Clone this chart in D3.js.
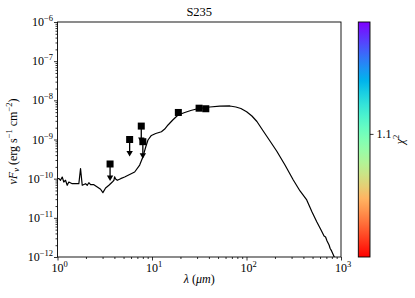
<!DOCTYPE html>
<html>
<head>
<meta charset="utf-8">
<script src="https://cdn.jsdelivr.net/npm/d3@7"></script>
<style>
    body { margin: 0; background: #fff; }
    svg text { font-family: "Liberation Serif", "DejaVu Serif", serif !important; fill: #000; }
</style>
</head>
<body>
<div id="chart"></div>
<script>
// model SED (wavelength in micron, nuFnu in erg s^-1 cm^-2)
const modelLambda = [1.007, 1.037, 1.076, 1.122, 1.166, 1.216, 1.267, 1.318, 1.432, 1.552,
    1.682, 1.753, 1.827, 1.981, 2.065, 2.147, 2.239, 2.427, 2.636, 2.857,
    3.022, 3.228, 3.499, 3.802, 3.953, 4.021, 4.121, 4.297, 4.657, 5.134,
    5.801, 6.554, 7.405, 8.025, 8.577, 9.07, 9.85, 10.95, 12.58, 13.63,
    14.78, 16.58, 18.87, 22.22, 25.72, 29.56, 34.48, 40.9, 52.2, 66.7,
    77.2, 87.2, 100.3, 114.1, 128.9, 150.3, 177.1, 208.5, 255.4, 312.8,
    368.4, 433.8, 493.8, 553.6, 615, 661.9, 686.6, 712.1, 747.8, 766.3,
    795, 830.7, 865.9];
const modelFlux = [1.01e-10, 1.0e-10, 9.1e-11, 1.10e-10, 8.2e-11, 9.1e-11, 6.78e-11, 8.2e-11, 7.44e-11, 7.53e-11,
    7.44e-11, 1.80e-10, 6.78e-11, 7.44e-11, 6.78e-11, 7.89e-11, 7.02e-11, 7.02e-11, 6.13e-11, 5.36e-11,
    4.39e-11, 5.78e-11, 6.78e-11, 8.2e-11, 9.1e-11, 1.12e-10, 9.82e-11, 9.1e-11, 1.0e-10, 1.10e-10,
    1.28e-10, 1.48e-10, 2.23e-10, 3.64e-10, 6.44e-10, 9.7e-10, 1.27e-9, 1.42e-9, 1.58e-9, 1.85e-9,
    2.35e-9, 3.15e-9, 4.23e-9, 4.89e-9, 5.5e-9, 6.01e-9, 6.37e-9, 6.76e-9, 7.08e-9, 7.18e-9,
    6.76e-9, 6.19e-9, 5.13e-9, 3.98e-9, 2.88e-9, 1.65e-9, 9.16e-10, 5.09e-10, 2.23e-10, 9.25e-11,
    4.85e-11, 2.86e-11, 1.41e-11, 7.98e-12, 4.9e-12, 3.44e-12, 3.24e-12, 2.56e-12, 2.03e-12, 1.67e-12,
    1.43e-12, 1.13e-12, 8.9e-13];

// observed photometry
const obsLambda = [3.6, 5.8, 7.7, 8.0, 19.0, 31.5, 37.1];
const obsFlux = [2.37e-10, 1.0e-9, 2.2e-9, 8.8e-10, 4.9e-9, 6.3e-9, 6.1e-9];
const obsUpperLimit = [true, true, true, true, false, false, false];

// axes
const xTickExps = [0, 1, 2, 3];
const yTickExps = [-12, -11, -10, -9, -8, -7, -6];
const chiDomain = [0.99, 1.2];
const chiTicks = [1.1];
const title = "S235";

const W = 415, H = 298;
const pLeft = 57.5, pRight = 341, pTop = 22, pBottom = 257;
const serif = "Liberation Serif, DejaVu Serif, serif";

const svg = d3.select("#chart").append("svg")
    .attr("width", W)
    .attr("height", H)
    .attr("font-family", serif);

const x = d3.scaleLog().domain([1, 1000]).range([pLeft, pRight]);
const y = d3.scaleLog().domain([1e-12, 1e-6]).range([pBottom, pTop]);

// minor tick values for each decade
function minors(exps) {
    let out = [];
    for (let i = 0; i < exps.length - 1; i++) {
        for (let k = 2; k <= 9; k++) out.push(k * Math.pow(10, exps[i]));
    }
    return out;
}

// clip for the model line
svg.append("clipPath").attr("id", "plotclip")
    .append("rect")
    .attr("x", pLeft).attr("y", pTop)
    .attr("width", pRight - pLeft).attr("height", pBottom - pTop);

// model line
const line = d3.line()
    .x(d => x(d[0]))
    .y(d => y(d[1]));

svg.append("path")
    .datum(d3.zip(modelLambda, modelFlux))
    .attr("clip-path", "url(#plotclip)")
    .attr("fill", "none")
    .attr("stroke", "#000")
    .attr("stroke-width", 1.2)
    .attr("stroke-linejoin", "round")
    .attr("d", line);

// observed points
const obs = d3.zip(obsLambda, obsFlux, obsUpperLimit);

// upper limit arrows
const lims = svg.append("g").selectAll("g")
    .data(obs.filter(d => d[2]))
    .enter()
    .append("g");

lims.append("line")
    .attr("x1", d => x(d[0]))
    .attr("x2", d => x(d[0]))
    .attr("y1", d => y(d[1]))
    .attr("y2", d => y(d[1]) + 13)
    .attr("stroke", "#000")
    .attr("stroke-width", 1.3);

lims.append("path")
    .attr("d", d => {
        let cx = x(d[0]), tip = y(d[1]) + 17;
        return "M" + (cx - 3.2) + "," + (tip - 5.5) + "L" + (cx + 3.2) + "," + (tip - 5.5) + "L" + cx + "," + tip + "Z";
    })
    .attr("fill", "#000");

// square markers
svg.append("g").selectAll("rect")
    .data(obs)
    .enter()
    .append("rect")
    .attr("x", d => x(d[0]) - 3.5)
    .attr("y", d => y(d[1]) - 3.5)
    .attr("width", 7)
    .attr("height", 7)
    .attr("fill", "#000");

// x axis
const xAxis = svg.append("g")
    .attr("transform", "translate(0," + pBottom + ")");
xAxis.call(d3.axisBottom(x).tickValues(xTickExps.map(e => Math.pow(10, e))).tickSize(3.5).tickFormat(""));
xAxis.append("g").call(d3.axisBottom(x).tickValues(minors(xTickExps)).tickSize(2).tickFormat(""));
xAxis.selectAll("path.domain").remove();
xAxis.selectAll("line").attr("stroke-width", 0.8);

const xLab = svg.append("g").selectAll("text")
    .data(xTickExps)
    .enter()
    .append("text")
    .attr("x", d => x(Math.pow(10, d)) + 2)
    .attr("y", 272)
    .attr("text-anchor", "middle")
    .attr("font-family", serif)
    .attr("font-size", 12);
xLab.append("tspan").text("10");
xLab.append("tspan").attr("dy", -5).attr("font-size", 8.5).text(d => String(d).replace("-", "\u2212"));

// y axis
const yAxis = svg.append("g")
    .attr("transform", "translate(" + pLeft + ",0)");
yAxis.call(d3.axisLeft(y).tickValues(yTickExps.map(e => Math.pow(10, e))).tickSize(3.5).tickFormat(""));
yAxis.append("g").call(d3.axisLeft(y).tickValues(minors(yTickExps)).tickSize(2).tickFormat(""));
yAxis.selectAll("path.domain").remove();
yAxis.selectAll("line").attr("stroke-width", 0.8);

const yLab = svg.append("g").selectAll("text")
    .data(yTickExps)
    .enter()
    .append("text")
    .attr("x", 53)
    .attr("y", d => y(Math.pow(10, d)) + 4)
    .attr("text-anchor", "end")
    .attr("font-family", serif)
    .attr("font-size", 12);
yLab.append("tspan").text("10");
yLab.append("tspan").attr("dy", -5).attr("font-size", 8.5).text(d => String(d).replace("-", "\u2212"));

// frame
svg.append("rect")
    .attr("x", pLeft).attr("y", pTop)
    .attr("width", pRight - pLeft).attr("height", pBottom - pTop)
    .attr("fill", "none")
    .attr("stroke", "#000")
    .attr("stroke-width", 0.9);

// title and axis labels
svg.append("text")
    .attr("x", (pLeft + pRight) / 2)
    .attr("y", 15.5)
    .attr("text-anchor", "middle")
    .attr("font-family", serif)
    .attr("font-size", 12.5)
    .text(title);

const xTitle = svg.append("text")
    .attr("x", (pLeft + pRight) / 2)
    .attr("y", 283)
    .attr("text-anchor", "middle")
    .attr("font-family", serif)
    .attr("font-size", 12);
xTitle.append("tspan").attr("font-style", "italic").text("\u03bb");
xTitle.append("tspan").text(" (");
xTitle.append("tspan").attr("font-style", "italic").text("\u03bcm");
xTitle.append("tspan").text(")");

const yTitle = svg.append("text")
    .attr("transform", "translate(17," + ((pTop + pBottom) / 2 + 2) + ") rotate(-90)")
    .attr("text-anchor", "middle")
    .attr("font-family", serif)
    .attr("font-size", 12);
yTitle.append("tspan").attr("font-style", "italic").text("\u03bdF");
yTitle.append("tspan").attr("font-style", "italic").attr("font-size", 8.5).attr("dy", 2).text("\u03bd");
yTitle.append("tspan").attr("dy", -2).text(" (erg s");
yTitle.append("tspan").attr("font-size", 8.5).attr("dy", -5).text("\u22121");
yTitle.append("tspan").attr("dy", 5).text(" cm");
yTitle.append("tspan").attr("font-size", 8.5).attr("dy", -5).text("\u22122");
yTitle.append("tspan").attr("dy", 5).text(")");

// colorbar (matplotlib rainbow_r)
function rainbow(t) {
    let r = Math.min(1, Math.abs(2 * t - 0.5));
    let g = Math.sin(Math.PI * t);
    let b = Math.cos(Math.PI * t / 2);
    return d3.rgb(r * 255, g * 255, b * 255).toString();
}

const cbX = 358.3, cbW = 11.7;
const grad = svg.append("defs").append("linearGradient")
    .attr("id", "cbgrad")
    .attr("x1", 0).attr("y1", 1).attr("x2", 0).attr("y2", 0);
grad.selectAll("stop")
    .data(d3.range(0, 1.0001, 0.05))
    .enter()
    .append("stop")
    .attr("offset", d => d)
    .attr("stop-color", d => rainbow(1 - d));

svg.append("rect")
    .attr("x", cbX).attr("y", pTop)
    .attr("width", cbW).attr("height", pBottom - pTop)
    .attr("fill", "url(#cbgrad)")
    .attr("stroke", "#000")
    .attr("stroke-width", 0.9);

const cScale = d3.scaleLinear().domain(chiDomain).range([pBottom, pTop]);
const cAxis = svg.append("g")
    .attr("transform", "translate(" + (cbX + cbW) + ",0)")
    .call(d3.axisRight(cScale).tickValues(chiTicks).tickSize(3.5).tickPadding(3).tickFormat(d3.format(".1f")));
cAxis.attr("font-family", serif).attr("font-size", 12);
cAxis.select("path.domain").remove();
cAxis.selectAll("line").attr("stroke-width", 0.8);

const cTitle = svg.append("text")
    .attr("transform", "translate(404," + ((pTop + pBottom) / 2) + ") rotate(-90)")
    .attr("text-anchor", "middle")
    .attr("font-family", serif)
    .attr("font-size", 12);
cTitle.append("tspan").attr("font-style", "italic").text("\u03c7");
cTitle.append("tspan").attr("font-size", 8.5).attr("dy", -5).text("2");
</script>
</body>
</html>
